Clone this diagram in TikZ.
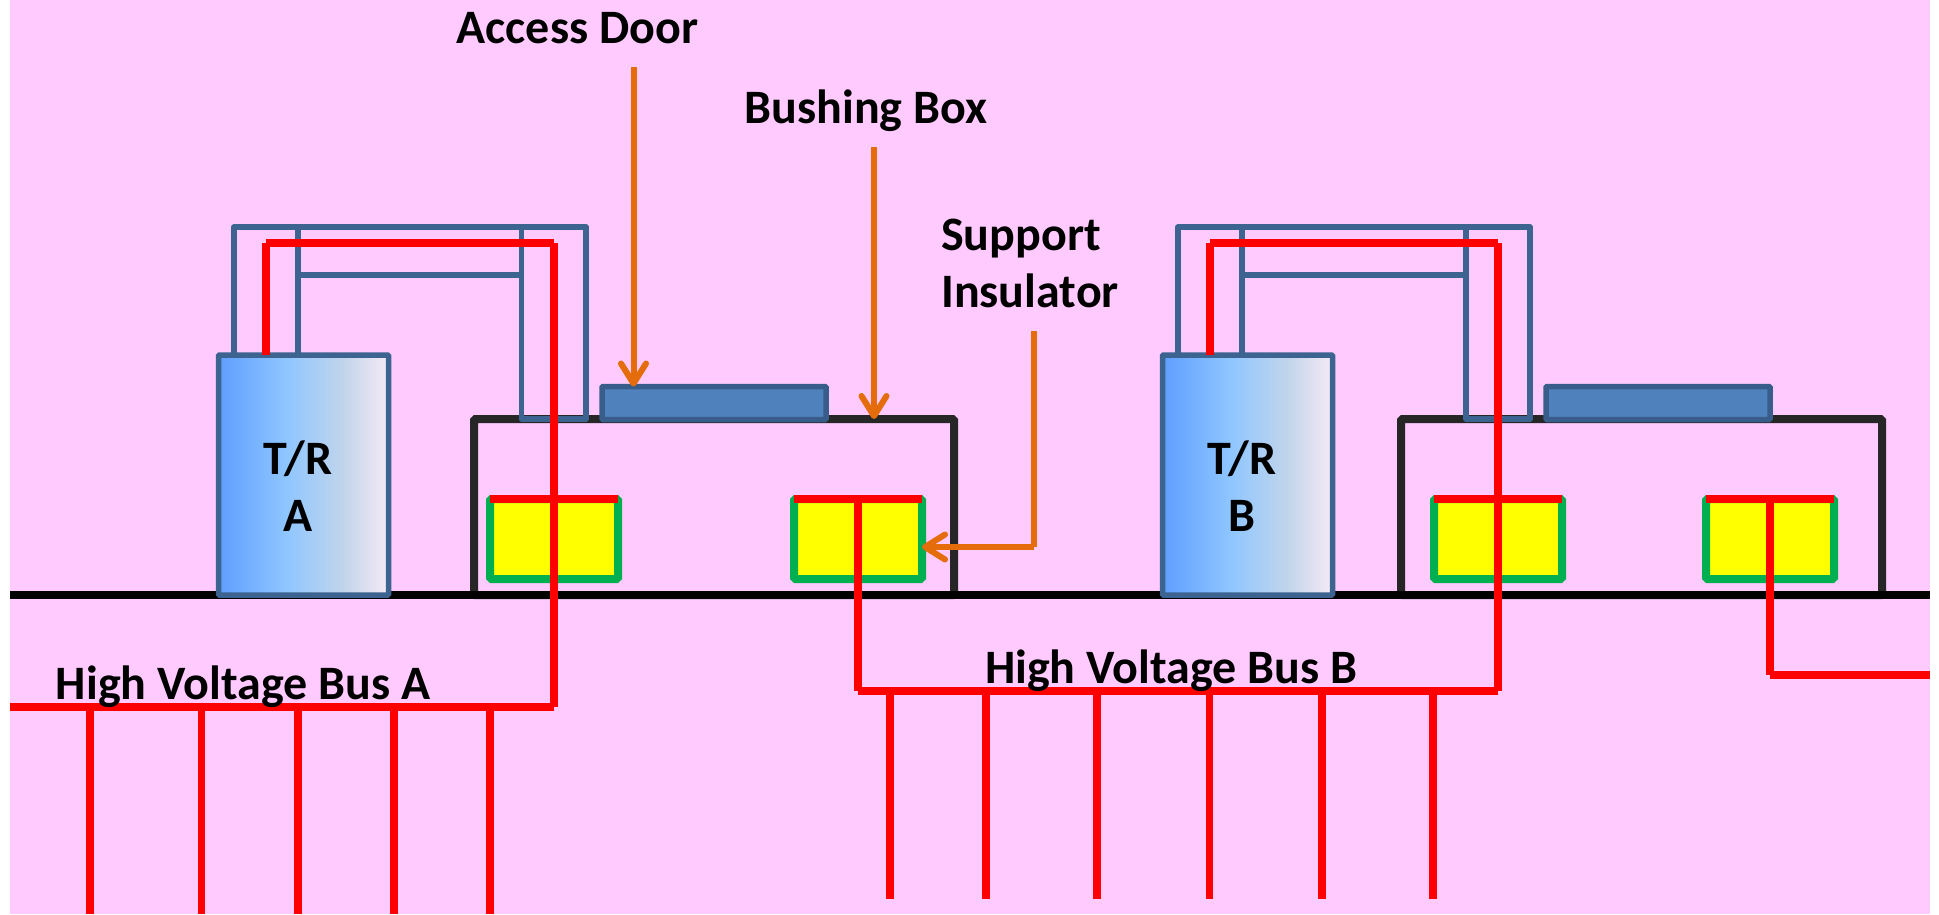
\documentclass[tikz,border=0pt]{standalone}
\usepackage{fontspec}
\setmainfont{Carlito}
\usetikzlibrary{arrows.meta, positioning}
\definecolor{pagepink}{HTML}{FFCAFD}
\definecolor{ductblue}{HTML}{3D6491}
\definecolor{doorblue}{HTML}{4F81BD}
\definecolor{doorline}{HTML}{385D8A}
\definecolor{housing}{HTML}{262626}
\definecolor{leaderorange}{HTML}{E46C0A}
\definecolor{insgreen}{HTML}{00B050}
\definecolor{insyellow}{HTML}{FFFF00}
\definecolor{wirered}{HTML}{FF0000}
\definecolor{trleft}{HTML}{5E9EFF}
\definecolor{trmid}{HTML}{8FC6FF}
\definecolor{trsoft}{HTML}{C2D5EB}
\definecolor{trright}{HTML}{F6E9F6}
\pgfdeclarehorizontalshading{trshade}{100bp}{color(0bp)=(trleft);
	color(25bp)=(trleft); color(45bp)=(trmid); color(62bp)=(trsoft); color(75bp)=(trright); color(100bp)=(trright)}
\tikzstyle{tag} = [font=\fontsize{48}{57}\selectfont\bfseries, text=black, inner sep=0pt]
\tikzstyle{trbox} = [rectangle, rounded corners=1pt, minimum width=170pt, minimum height=240pt, inner sep=0pt, outer sep=0pt, draw=ductblue, line width=5.5pt, shading=trshade]
\tikzstyle{housingbox} = [rectangle, rounded corners=1.5pt, minimum height=176pt, inner sep=0pt, outer sep=0pt, draw=housing, line width=8pt]
\tikzstyle{insulator} = [rectangle, rounded corners=1.5pt, minimum width=128pt, minimum height=80pt, inner sep=0pt, outer sep=0pt, draw=insgreen, fill=insyellow, line width=8pt]
\tikzstyle{door} = [rectangle, rounded corners=1pt, minimum width=224pt, minimum height=33pt, inner sep=0pt, outer sep=0pt, draw=doorline, fill=doorblue, line width=5.5pt]
\tikzstyle{duct} = [draw=ductblue, line width=5.5pt, line join=round]
\tikzstyle{wire} = [draw=wirered, line width=8pt]
\tikzstyle{drop} = [draw=wirered, line width=7.5pt]
\tikzstyle{leader} = [draw=leaderorange, line width=6pt]
\tikzstyle{arrow} = [leader, -{Straight Barb[length=20pt, width=25pt, round]}]

\begin{document}
\begin{tikzpicture}[x=1pt, y=-1pt]
	\useasboundingbox (0,0) rectangle (1939,914);
	\node (page) [rectangle, fill=pagepink, inner sep=0pt, minimum width=1920pt, minimum height=914pt] at (970,457) {};
	
	% housings and ground
	\node (housingA) [housingbox, minimum width=480pt] at (714,507) {};
	\node (housingB) [housingbox, minimum width=481pt] at (1641.5,507) {};
	\coordinate (groundL) at (10,595);
	\coordinate (groundR) at (1930,595);
	\draw [draw=black, line width=8pt] (groundL) -- (groundR);
	
	% insulators
	\node (insA1) [insulator] at (554,539) {};
	\node (insA2) [insulator] at (858,539) {};
	\node (insB1) [insulator] at (1498,539) {};
	\node (insB2) [insulator] at (1770,539) {};
	
	% transformer rectifiers
	\node (trA) [trbox] at (303.5,475) {};
	\node (trB) [trbox] at (1247.5,475) {};
	\node (trAlabel) [tag, align=center] at (298,486) {T/R\\A};
	\node (trBlabel) [tag, align=center] at (1242,486) {T/R\\B};
	
	% ducts
	\draw [duct] (234,355) -- (234,227) -- (586,227) -- (586,419) -- (521.5,419) -- (521.5,227);
	\draw [duct] (298,355) -- (298,227);
	\draw [duct] (298,275) -- (521.5,275);
	\draw [duct] (1178,355) -- (1178,227) -- (1530,227) -- (1530,419) -- (1466,419) -- (1466,227);
	\draw [duct] (1242,355) -- (1242,227);
	\draw [duct] (1242,275) -- (1466,275);
	
	% access doors
	\node (doorA) [door] at (714,403) {};
	\node (doorB) [door] at (1658,403) {};
	
	% bus A wiring
	\coordinate (wireAstart) at (266,355);
	\coordinate (wireAtop) at (266,243);
	\coordinate (wireAcorner) at (554,243);
	\coordinate (busAend) at (554,707);
	\coordinate (busAstart) at (10,707);
	\draw [wire] (wireAstart) -- (wireAtop) (wireAtop) -- (wireAcorner) (wireAcorner) -- (busAend) (busAend) -- (busAstart);
	\draw [wire] (insA1.north west) -- (insA1.north east);
	
	% bus B wiring
	\coordinate (wireBstart) at (1210,355);
	\coordinate (wireBtop) at (1210,243);
	\coordinate (wireBcorner) at (1498,243);
	\coordinate (busBend) at (1498,691);
	\coordinate (busBstart) at (858,691);
	\draw [wire] (wireBstart) -- (wireBtop) (wireBtop) -- (wireBcorner) (wireBcorner) -- (busBend) (busBend) -- (busBstart);
	\draw [wire] (insB1.north west) -- (insB1.north east);
	\draw [wire] (insA2.north west) -- (insA2.north east);
	\draw [wire] (insA2.north) -- (busBstart);
	
	% next bus
	\coordinate (busCstart) at (1770,675);
	\coordinate (busCend) at (1930,675);
	\draw [wire] (insB2.north west) -- (insB2.north east);
	\draw [wire] (insB2.north) -- (busCstart) (busCstart) -- (busCend);
	
	% drops from bus A
	\coordinate (dropA1) at (90,914);
	\coordinate (dropA2) at (201.5,914);
	\coordinate (dropA3) at (298,914);
	\coordinate (dropA4) at (394,914);
	\coordinate (dropA5) at (490,914);
	\draw [drop] (dropA1 |- busAend) -- (dropA1);
	\draw [drop] (dropA2 |- busAend) -- (dropA2);
	\draw [drop] (dropA3 |- busAend) -- (dropA3);
	\draw [drop] (dropA4 |- busAend) -- (dropA4);
	\draw [drop] (dropA5 |- busAend) -- (dropA5);
	
	% drops from bus B
	\coordinate (dropB1) at (890,899);
	\coordinate (dropB2) at (986,899);
	\coordinate (dropB3) at (1097,899);
	\coordinate (dropB4) at (1209.5,899);
	\coordinate (dropB5) at (1322,899);
	\coordinate (dropB6) at (1433,899);
	\draw [drop] (dropB1 |- busBend) -- (dropB1);
	\draw [drop] (dropB2 |- busBend) -- (dropB2);
	\draw [drop] (dropB3 |- busBend) -- (dropB3);
	\draw [drop] (dropB4 |- busBend) -- (dropB4);
	\draw [drop] (dropB5 |- busBend) -- (dropB5);
	\draw [drop] (dropB6 |- busBend) -- (dropB6);
	
	% labels
	\node (doorlabel) [tag, anchor=base] at (577.5,43) {Access Door};
	\node (bushlabel) [tag, anchor=base] at (866,123) {Bushing Box};
	\node (suplabel) [tag, align=left] at (1030,263) {Support\\Insulator};
	\node (busAlabel) [tag, anchor=base] at (243,699) {High Voltage Bus A};
	\node (busBlabel) [tag, anchor=base] at (1171,683) {High Voltage Bus B};
	
	% leaders
	\coordinate (doorTail) at (633.5,67);
	\coordinate (bushTail) at (874,147);
	\coordinate (supTail) at (1034,331);
	\coordinate (supCorner) at (1034,547);
	\draw [arrow] (doorTail) -- (doorTail |- doorA.north);
	\draw [arrow] (bushTail) -- (bushTail |- housingA.north);
	\draw [leader] (supTail) -- (supCorner);
	\draw [arrow] (supCorner) -- (supCorner -| insA2.east);
\end{tikzpicture}
\end{document}
